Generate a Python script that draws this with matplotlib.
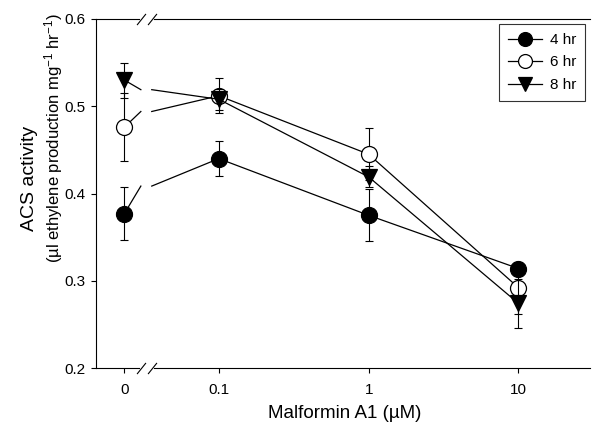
import numpy as np
import matplotlib
matplotlib.use("Agg")
import matplotlib.pyplot as plt
from matplotlib.lines import Line2D
from matplotlib.ticker import NullLocator, FixedLocator

plt.rcParams['font.family'] = ['Liberation Sans', 'DejaVu Sans']
plt.rcParams['mathtext.fontset'] = 'custom'
plt.rcParams['mathtext.rm'] = 'Liberation Sans'
plt.rcParams['mathtext.it'] = 'Liberation Sans:italic'
plt.rcParams['mathtext.default'] = 'regular'

# ---- data ----
conc = [0, 0.1, 1, 10]
tick_labels = ['0', '0.1', '1', '10']
series_names = ['4 hr', '6 hr', '8 hr']
y_4hr = [0.377, 0.440, 0.375, 0.314]
e_4hr = [0.030, 0.020, 0.030, 0.008]
y_6hr = [0.476, 0.512, 0.445, 0.292]
e_6hr = [0.039, 0.020, 0.030, 0.030]
y_8hr = [0.530, 0.508, 0.419, 0.274]
e_8hr = [0.020, 0.012, 0.012, 0.028]

# ---- broken x scale: linear segment for 0, log for >= break ----
ZERO_POS = -1.63
XL, XR = 0.0215, 0.0357
LXR = np.log10(XR)


def fwd(x):
    x = np.asarray(x, dtype=float)
    lin = ZERO_POS + x * (LXR - ZERO_POS) / XR
    lg = np.log10(np.where(x > 0, x, 1.0))
    return np.where(x >= XR, lg, lin)


def inv(p):
    p = np.asarray(p, dtype=float)
    lin = (p - ZERO_POS) * XR / (LXR - ZERO_POS)
    return np.where(p >= LXR, 10 ** np.clip(p, -10, 10), lin)


W, H = 592, 428
fig = plt.figure(figsize=(W / 100, H / 100), dpi=100)
ax = fig.add_axes([96 / W, 1 - 368 / H, (590 - 96) / W, (368 - 19) / H])
ax.set_xscale('function', functions=(fwd, inv))
ax.set_xlim(-0.037, 30)
ax.set_ylim(0.2, 0.6)

styles = [
    dict(marker='o', mfc='black', mec='black'),
    dict(marker='o', mfc='white', mec='black'),
    dict(marker='v', mfc='black', mec='black'),
]
ys = [y_4hr, y_6hr, y_8hr]
es = [e_4hr, e_6hr, e_8hr]
ms = [11.5, 11.5, 11.5]

handles = []
for i, (y, e, st) in enumerate(zip(ys, es, styles)):
    z = 2 + i
    # connecting lines, broken at the axis break
    ym = (y[0] + y[1]) / 2
    ax.plot([conc[0], XL], [y[0], ym], color='black', lw=0.9, zorder=z)
    ax.plot([XR] + conc[1:], [ym] + y[1:], color='black', lw=0.9, zorder=z)
    ax.errorbar(conc, y, yerr=e, fmt='none', ecolor='black', elinewidth=0.8,
                capsize=3, capthick=0.8, zorder=z + 0.2)
    ax.plot(conc, y, linestyle='none', marker=st['marker'], markersize=ms[i],
            markerfacecolor=st['mfc'], markeredgecolor=st['mec'],
            markeredgewidth=0.9, zorder=z + 0.5)
    handles.append(Line2D([], [], color='black', lw=0.9, marker=st['marker'],
                          markersize=10, markerfacecolor=st['mfc'],
                          markeredgecolor=st['mec'], markeredgewidth=0.9))

# spines (top and bottom broken)
ax.spines['right'].set_visible(False)
ax.spines['top'].set_visible(False)
ax.spines['bottom'].set_visible(False)
ax.spines['left'].set_linewidth(0.8)
tr = ax.get_xaxis_transform()
xmin, xmax = ax.get_xlim()
for yy in (0, 1):
    ax.plot([xmin, XL - 0.002], [yy, yy], color='black', lw=0.8, transform=tr,
            clip_on=False, zorder=5)
    ax.plot([XR + 0.001, xmax], [yy, yy], color='black', lw=0.8, transform=tr,
            clip_on=False, zorder=5)
    ax.plot([XL, XR], [yy, yy], linestyle='none', marker=[(-0.8, -1), (0.8, 1)],
            markersize=8, markeredgewidth=0.8, color='black', transform=tr,
            clip_on=False, zorder=6)

ax.xaxis.set_major_locator(FixedLocator(conc))
ax.xaxis.set_minor_locator(NullLocator())
ax.set_xticklabels(tick_labels)
ax.set_yticks([0.2, 0.3, 0.4, 0.5, 0.6])
ax.set_yticklabels(['0.2', '0.3', '0.4', '0.5', '0.6'])
ax.tick_params(axis='both', direction='out', length=3.5, width=0.8,
               labelsize=11, pad=4)
ax.tick_params(axis='x', pad=7)

fig.text(345 / W, 1 - 414 / H, 'Malformin A1 (\u00b5M)', fontsize=13.5,
         ha='center', va='center')
fig.text(29 / W, 1 - 178 / H, 'ACS activity', fontsize=14, rotation=90,
         ha='center', va='center')
fig.text(54 / W, 1 - 138 / H,
         '(\u00b5l ethylene production mg$^{-1}$ hr$^{-1}$)', fontsize=12,
         rotation=90, ha='center', va='center')

leg = ax.legend(handles, series_names, loc='upper right',
                bbox_to_anchor=(0.99, 0.986), borderaxespad=0, fontsize=11,
                frameon=True, fancybox=False, edgecolor='black',
                handlelength=2.2, labelspacing=0.55, handletextpad=0.5,
                borderpad=0.6)
leg.get_frame().set_linewidth(0.8)

fig.savefig('out.png', dpi=100)
